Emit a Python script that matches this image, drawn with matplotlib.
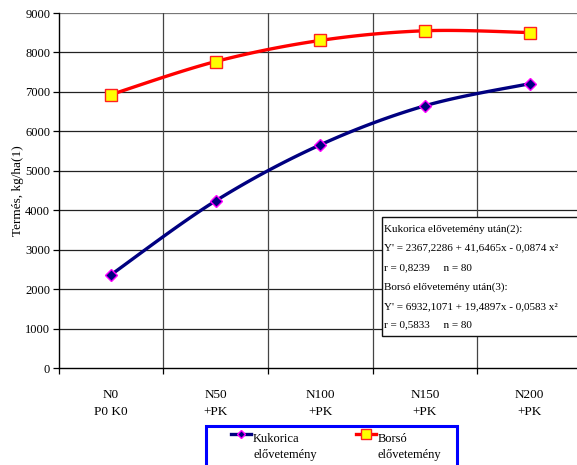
import matplotlib
matplotlib.use('Agg')
import matplotlib.pyplot as plt
from matplotlib.patches import Rectangle
from matplotlib.lines import Line2D
import numpy as np

plt.rcParams['font.family'] = 'Liberation Serif'
plt.rcParams['axes.unicode_minus'] = False

# Termésadatok kezelésenként
kezelesek = ['N0\nP0 K0', 'N50\n+PK', 'N100\n+PK', 'N150\n+PK', 'N200\n+PK']
kukorica = [2367, 4240, 5660, 6650, 7210]
borso = [6932, 7770, 8305, 8550, 8505]
y_ticks = [0, 1000, 2000, 3000, 4000, 5000, 6000, 7000, 8000, 9000]
sorozatok = ['Kukorica\nelővetemény', 'Borsó\nelővetemény']

egyenletek = [
    'Kukorica elővetemény után(2):',
    "Y' = 2367,2286 + 41,6465x - 0,0874 x²",
    'r = 0,8239     n = 80',
    'Borsó elővetemény után(3):',
    "Y' = 6932,1071 + 19,4897x - 0,0583 x²",
    'r = 0,5833     n = 80',
]


def simitott(xs, ys, n=30):
    """Excel-szerű simított vonal (Bezier, 1/6 feszesség)."""
    p = np.column_stack([xs, ys]).astype(float)
    p = np.vstack([p[0], p, p[-1]])
    out = []
    for i in range(1, len(p) - 2):
        p0, p3 = p[i], p[i + 1]
        p1 = p0 + (p[i + 1] - p[i - 1]) / 6
        p2 = p3 - (p[i + 2] - p[i]) / 6
        t = np.linspace(0, 1, n)[:, None]
        seg = ((1 - t) ** 3) * p0 + 3 * ((1 - t) ** 2) * t * p1 + 3 * (1 - t) * t ** 2 * p2 + t ** 3 * p3
        out.append(seg if i == 1 else seg[1:])
    c = np.vstack(out)
    return c[:, 0], c[:, 1]


W, H = 577, 465
fig = plt.figure(figsize=(W / 100, H / 100), dpi=100)
ax = fig.add_axes([58.5 / W, (H - 368.3) / H, (582 - 58.5) / W, (368.3 - 13) / H])

x = np.arange(len(kezelesek)) + 0.5

# Rácsvonalak
for v in y_ticks[1:]:
    ax.axhline(v, color='#222222' if v < 9000 else '#777777', lw=0.9, zorder=1)
for b in range(1, len(kezelesek)):
    ax.axvline(b, color='#444444', lw=0.9, zorder=1)

# Simított görbék
stilus = [
    dict(color='#000080', marker='D', ms=6, mfc='#000080', mec='#ff00ff'),
    dict(color='#ff0000', marker='s', ms=8, mfc='#ffff00', mec='#ff2020'),
]
for adat, st in zip([kukorica, borso], stilus):
    sx, sy = simitott(x, adat)
    ax.plot(sx, sy, color=st['color'], lw=2.4, zorder=3, solid_capstyle='round')
    ax.plot(x, adat, ls='none', marker=st['marker'], ms=st['ms'], mfc=st['mfc'],
            mec=st['mec'], mew=1.0, zorder=4)

ax.set_xlim(0, len(kezelesek))
ax.set_ylim(0, 9000)
ax.set_yticks(y_ticks)
ax.set_yticklabels([str(v) for v in y_ticks], fontsize=9)
ax.tick_params(axis='y', direction='out', length=4, width=0.9, pad=2)

ax.set_xticks(range(len(kezelesek) + 1))
ax.set_xticklabels([])
ax.set_xticks(x, minor=True)
ax.set_xticklabels(kezelesek, minor=True, fontsize=9.5, linespacing=1.55)
ax.tick_params(axis='x', which='major', direction='out', length=4, width=0.9)
ax.tick_params(axis='x', which='minor', length=0, pad=15)

for s in ['top', 'right']:
    ax.spines[s].set_visible(False)
ax.spines['left'].set_linewidth(1.0)
ax.spines['bottom'].set_linewidth(1.0)

ax.set_ylabel('Termés, kg/ha(1)', fontsize=9.5)
ax.yaxis.set_label_coords(-34 / 523.5, 0.5)

# Egyenletek doboza
fig.patches.append(Rectangle((382 / W, 1 - 336 / H), (578 - 382) / W, (336 - 217) / H,
                             transform=fig.transFigure, facecolor='white',
                             edgecolor='#111111', lw=1.0, zorder=5))
sor_y = [229, 248, 268, 287, 307, 325]
for yy, sor in zip(sor_y, egyenletek):
    fig.text(384 / W, 1 - yy / H, sor, ha='left', va='center', fontsize=8, zorder=6)

# Jelmagyarázat keret
fig.patches.append(Rectangle((206 / W, 1 - 472 / H), (457 - 206) / W, (472 - 426) / H,
                             transform=fig.transFigure, facecolor='white',
                             edgecolor='#0000ff', lw=2.2, zorder=5))
jel_x = [(231, 251), (356, 376)]
for (x0, x1), st, nev in zip(jel_x, stilus, sorozatok):
    fig.add_artist(Line2D([x0 / W, x1 / W], [1 - 434 / H] * 2, transform=fig.transFigure,
                          color=st['color'], lw=2.4, zorder=6))
    fig.add_artist(Line2D([(x0 + x1) / 2 / W], [1 - 434 / H], transform=fig.transFigure,
                          ls='none', marker=st['marker'], ms=st['ms'] - 1.5, mfc=st['mfc'],
                          mec=st['mec'], mew=1.0, zorder=7))
    fig.text((x1 + 2) / W, 1 - 433 / H, nev, ha='left', va='top', fontsize=9,
             linespacing=1.45, zorder=7)

fig.savefig('out.png', dpi=100, facecolor='white')
